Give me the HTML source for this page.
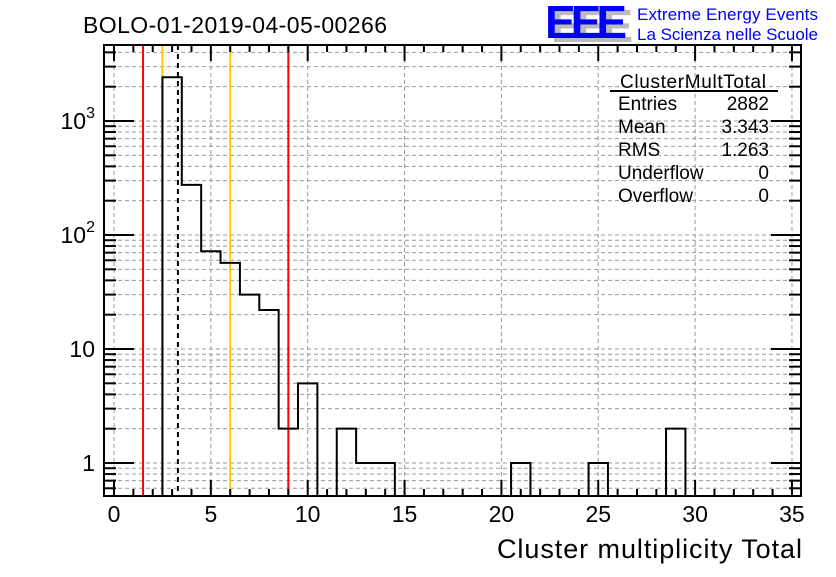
<!DOCTYPE html>
<html><head><meta charset="utf-8"><style>
body{margin:0;background:#fff}
svg text{font-family:"Liberation Sans",sans-serif}
</style></head><body>
<svg id="c" width="836" height="572" viewBox="0 0 836 572">
<text x="83" y="33" font-size="23" textLength="304">BOLO-01-2019-04-05-00266</text>
<g>
<text x="551" y="42" font-size="46" font-weight="bold" fill="#bbb" textLength="82">EEE</text>
<text x="545" y="38" font-size="46" font-weight="bold" fill="#0000ff" textLength="82">EEE</text>
<text x="637" y="20" font-size="17" fill="#0000ff" textLength="181">Extreme Energy Events</text>
<text x="637" y="40" font-size="17" fill="#0000ff" textLength="181">La Scienza nelle Scuole</text>
</g>
<g id="grid"></g><g id="marks"></g><g id="axes"></g>
<g font-size="19">
<text x="620" y="88" textLength="146">ClusterMultTotal</text>
<line x1="610" y1="91" x2="778" y2="91" stroke="#000" stroke-width="2"/>
<text x="618" y="110">Entries</text><text x="769" y="110" text-anchor="end">2882</text>
<text x="618" y="133">Mean</text><text x="769" y="133" text-anchor="end">3.343</text>
<text x="618" y="156">RMS</text><text x="769" y="156" text-anchor="end">1.263</text>
<text x="618" y="179">Underflow</text><text x="769" y="179" text-anchor="end">0</text>
<text x="618" y="202">Overflow</text><text x="769" y="202" text-anchor="end">0</text>
</g>
<text x="802" y="558" font-size="27" text-anchor="end" textLength="305">Cluster multiplicity Total</text>
</svg>
<script>
const binCenters=[3,4,5,6,7,8,9,10,11,12,13,14,21,25,29];
const counts=[2420,275,72,57,30,22,2,5,0,2,1,1,1,1,2];
const xTicks=[0,5,10,15,20,25,30,35];
const yDecades=[1,10,100,1000];
const yDecadeLabels=["1","10","10²","10³"];
const vLines=[1.5,2.5,3.3,6.0,9.0];
const vLineColors=["#ff0000","#ffcc00","#000000","#ffcc00","#ff0000"];

const L=104,R=801,T=45,B=496;
const X=v=>114+v*19.37;
const Y=v=>463-Math.log10(v)*114;
const NS="http://www.w3.org/2000/svg";
function mk(tag,attrs,parent){const e=document.createElementNS(NS,tag);for(const k in attrs)e.setAttribute(k,attrs[k]);document.getElementById(parent).appendChild(e);return e;}

for(const t of xTicks){const g=mk('line',{x1:X(t),x2:X(t),y1:T,y2:B,stroke:'#999','stroke-dasharray':'4,3'},'grid');

}
for(let d=0.1;d<=1000;d*=10){for(let m=1;m<=9;m++){const v=d*m;const y=Y(v);if(y<T||y>B)continue;
const g=mk('line',{x1:L,x2:R,y1:y,y2:y,stroke:'#999','stroke-dasharray':'4,3'},'grid');


const len=m===1?30:12;
const tl=mk('line',{x1:L,x2:L+len,y1:y,y2:y,stroke:'#000','stroke-width':2},'axes');


const tr=mk('line',{x1:R,x2:R-len,y1:y,y2:y,stroke:'#000','stroke-width':2},'axes');

}}

vLines.forEach((v,i)=>{const a={x1:X(v),x2:X(v),y1:T,y2:B,stroke:vLineColors[i],'stroke-width':2};if(i===2)a['stroke-dasharray']='5,4';
const l=mk('line',a,'marks');

});

const all=[];for(let k=0;k<=35;k++){const i=binCenters.indexOf(k);all.push(i>=0?counts[i]:0);}
let d='M'+L+','+B;
for(let k=0;k<=35;k++){const c=all[k];const y=c>0?Math.max(T,Y(c)):B;d+=' L'+X(k-0.5)+','+y+' L'+X(k+0.5)+','+y;}
d+=' L'+R+','+B;
const h=mk('path',{d:d,fill:'none',stroke:'#000','stroke-width':2},'marks');



const f=mk('rect',{x:L,y:T,width:R-L,height:B-T,fill:'none',stroke:'#000','stroke-width':2},'axes');


for(let k=0;k<=35;k++){const len=k%5===0?16:7;
const a=mk('line',{x1:X(k),x2:X(k),y1:B,y2:B-len,stroke:'#000','stroke-width':2},'axes');


const b=mk('line',{x1:X(k),x2:X(k),y1:T,y2:T+len,stroke:'#000','stroke-width':2},'axes');

}
xTicks.forEach(t=>{const tx=mk('text',{x:X(t),y:522,'font-size':23,'text-anchor':'middle'},'axes');tx.textContent=t;

});
yDecades.forEach((v,i)=>{const tx=mk('text',{x:95,y:Y(v)+8,'font-size':23,'text-anchor':'end'},'axes');
if(i>=2){tx.textContent='10';const s=document.createElementNS(NS,'tspan');s.setAttribute('dy','-11');s.setAttribute('font-size','16');s.textContent=String(i);tx.appendChild(s);tx.setAttribute('x',95);}
else tx.textContent=yDecadeLabels[i];

});
</script>
</body></html>
